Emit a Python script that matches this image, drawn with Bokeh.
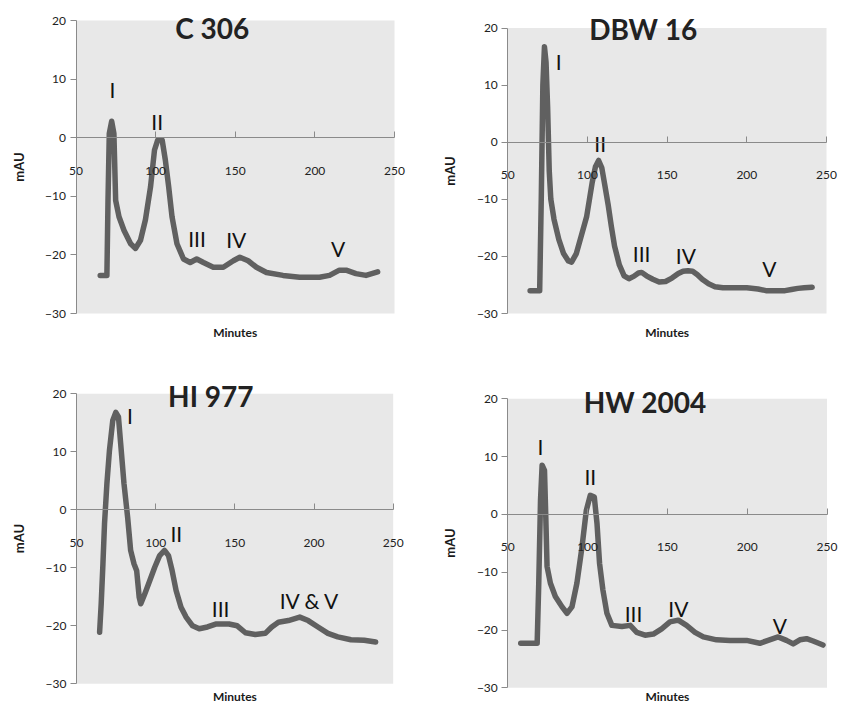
import math
from bokeh.plotting import figure
from bokeh.layouts import row, column
from bokeh.models import Range1d, FixedTicker, LinearAxis, Label, ColumnDataSource
from bokeh.core.properties import value
from bokeh.embed import file_html
from bokeh.resources import INLINE

FONT = "Lato"

x_ticks = [50, 100, 150, 200, 250]
y_ticks = [-30, -20, -10, 0, 10, 20]

# ---- C 306 ----
c306_x = [65.2, 69.4, 70.1, 70.9, 72.4, 73.8, 74.9, 77.0, 80.1, 84.3, 87.4, 90.5, 93.6, 96.8,
          99.3, 101.3, 104.1, 106.1, 108.2, 110.3, 113.4, 117.5, 121.7, 125.8, 130.0, 136.2,
          142.5, 148.8, 152.9, 158.1, 163.3, 169.6, 180.0, 190.4, 202.9, 209.2, 215.4, 219.6,
          225.8, 232.1, 239.4]
c306_y = [-23.5, -23.5, -10.7, 0.7, 2.8, 0.7, -10.7, -13.5, -15.8, -18.1, -18.9, -17.5, -14.0, -8.4,
          -2.1, -0.4, -0.4, -3.8, -8.4, -13.5, -18.1, -20.7, -21.3, -20.7, -21.3, -22.1,
          -22.1, -21.0, -20.4, -21.0, -22.1, -23.0, -23.5, -23.8, -23.8, -23.5, -22.6, -22.6,
          -23.2, -23.5, -22.9]
c306_lab = ["I", "II", "III", "IV", "V"]
c306_lab_x = [72.9, 101.0, 126.0, 150.6, 214.6]
c306_lab_y = [8.2, 2.8, -17.2, -17.4, -18.9]

# ---- DBW 16 ----
dbw16_x = [64, 70, 71, 72, 73, 74, 75, 76, 77, 79, 82, 85, 88, 90, 93, 96, 99.5, 103, 105, 107,
           109, 111, 113, 115, 117, 120, 123, 126, 129, 132, 134, 137, 141, 145, 149, 153, 157,
           160, 163, 166, 169, 172, 176, 180, 185, 190, 200, 207, 212, 218, 224, 228, 232, 236, 241]
dbw16_y = [-26, -26, -10, 10, 16.7, 14, 6, -5, -10, -13.5, -17, -19.5, -20.8, -21, -19.5, -16.5,
           -13, -7, -4.3, -3.2, -4.5, -7.7, -11, -14.8, -18.2, -21.5, -23.4, -23.9, -23.5, -22.9,
           -22.8, -23.4, -24, -24.5, -24.4, -23.8, -23, -22.6, -22.5, -22.6, -23.2, -24, -24.8,
           -25.3, -25.5, -25.5, -25.5, -25.7, -26, -26, -26, -25.8, -25.6, -25.5, -25.4]
dbw16_lab = ["I", "II", "III", "IV", "V"]
dbw16_lab_x = [81.9, 108.0, 134.0, 161.7, 214.2]
dbw16_lab_y = [14.1, -0.2, -19.5, -19.8, -22.2]

# ---- HI 977 ----
hi977_x = [64.6, 65.6, 66.7, 67.7, 69.2, 70.8, 72.9, 74.8, 76.5, 77.9, 80.0, 82.3, 84.2, 86.3, 88.0,
           89.6, 90.6, 93.1, 96.3, 99.4, 102.5, 105.6, 108.1, 110.4, 112.9, 116.0, 119.2, 123.3,
           127.5, 132.7, 137.9, 146.3, 151.5, 156.7, 162.9, 169.2, 173.3, 177.5, 183.8, 191.0,
           196.3, 202.5, 208.8, 215.0, 223.3, 231.7, 238.9]
hi977_y = [-21.1, -16.2, -9.3, -2.4, 4.5, 10.2, 15.4, 16.8, 16.0, 11.4, 4.5, -1.3, -7.0, -9.3, -10.5,
           -15.1, -16.2, -14.5, -12.2, -9.9, -7.9, -7.0, -7.9, -10.5, -13.9, -16.8, -18.5, -20.0,
           -20.5, -20.2, -19.7, -19.7, -20.0, -21.2, -21.5, -21.3, -20.2, -19.4, -19.1, -18.5,
           -19.1, -20.2, -21.3, -21.9, -22.4, -22.5, -22.8]
hi977_lab = ["I", "II", "III", "IV & V"]
hi977_lab_x = [83.75, 113.0, 141.0, 197.3]
hi977_lab_y = [16.3, -4.0, -17.1, -15.6]

# ---- HW 2004 ----
hw2004_x = [58.1, 68.4, 69.4, 70.5, 71.5, 73.0, 73.8, 74.6, 76.7, 79.8, 84.0, 87.1, 90.2, 93.3, 96.5,
            99.2, 101.7, 104.2, 105.9, 107.5, 109.6, 112.1, 115.2, 121.5, 126.7, 130.8, 136.0,
            141.2, 146.4, 151.6, 156.8, 162.0, 167.3, 172.5, 180.8, 189.2, 199.6, 207.9, 213.1,
            219.4, 224.6, 228.8, 233.0, 237.2, 241.3, 247.5]
hw2004_y = [-22.3, -22.3, -11.9, 2.5, 8.5, 7.6, -0.4, -9.0, -11.9, -14.2, -16.0, -17.1, -16.0, -11.9,
            -5.6, 0.7, 3.3, 3.0, -1.6, -8.5, -13.1, -17.1, -19.2, -19.4, -19.2, -20.4, -20.9,
            -20.7, -19.8, -18.6, -18.3, -19.2, -20.4, -21.2, -21.7, -21.8, -21.8, -22.3, -21.8,
            -21.2, -21.8, -22.4, -21.7, -21.5, -21.9, -22.6]
hw2004_lab = ["I", "II", "III", "IV", "V"]
hw2004_lab_x = [70.4, 101.7, 128.8, 156.9, 220.4]
hw2004_lab_y = [11.7, 6.5, -17.1, -16.3, -19.3]

AX_COL = "#8a8a8a"
TICK_TXT = "#222222"


def make_panel(name, xs, ys, labs, lab_x, lab_y, title_x, title_y, w, h, geo, minutes_off):
    # geo: pixel positions inside the figure of x=50, x=250, y=20, y=-30
    px0, px1, py_top, py_bot = geo
    xmin, xmax = x_ticks[0], x_ticks[-1]
    ymin, ymax = y_ticks[0], y_ticks[-1]
    sx = (xmax - xmin) / (px1 - px0)
    sy = (ymax - ymin) / (py_bot - py_top)
    xr = Range1d(xmin - px0 * sx, xmax + (w - px1) * sx)
    yr = Range1d(ymin - (h - py_bot) * sy, ymax + py_top * sy)

    p = figure(width=w, height=h, x_range=xr, y_range=yr,
               output_backend="svg", toolbar_location=None,
               min_border=0)
    p.background_fill_color = "white"
    p.border_fill_color = "white"
    p.outline_line_color = None
    p.grid.visible = False

    # grey plot area
    p.quad(left=[xmin], right=[xmax], bottom=[ymin], top=[ymax],
           fill_color="#e8e8e8", line_color=None)

    # x axis crossing at y = 0
    xa = p.xaxis[0]
    xa.fixed_location = 0
    xa.bounds = (xmin, xmax)
    xa.ticker = FixedTicker(ticks=x_ticks)
    xa.axis_line_color = AX_COL
    xa.major_tick_line_color = AX_COL
    xa.major_tick_in = 6
    xa.major_tick_out = 0
    xa.minor_tick_line_color = None
    xa.major_label_standoff = 29
    xa.major_label_text_font = FONT
    xa.major_label_text_font_size = "12px"
    xa.major_label_text_color = TICK_TXT

    ya = p.yaxis[0]
    ya.fixed_location = xmin
    ya.bounds = (ymin, ymax)
    ya.ticker = FixedTicker(ticks=y_ticks)
    ya.axis_line_color = AX_COL
    ya.major_tick_line_color = AX_COL
    ya.major_tick_in = 0
    ya.major_tick_out = 6
    ya.minor_tick_line_color = None
    ya.major_label_standoff = 4
    ya.major_label_text_font = FONT
    ya.major_label_text_font_size = "12px"
    ya.major_label_text_color = TICK_TXT
    ya.axis_label = "mAU"
    ya.axis_label_text_font = FONT
    ya.axis_label_text_font_size = "13px"
    ya.axis_label_text_font_style = "bold"
    ya.axis_label_text_color = "#1a1a1a"
    ya.axis_label_standoff = 16

    p.add_layout(Label(x=(xmin + xmax) / 2, y=ymin, y_offset=minutes_off, text="Minutes",
                       text_font=FONT, text_font_size="12px", text_font_style="bold",
                       text_align="center", text_baseline="middle", text_color="#1a1a1a"))

    p.line(xs, ys, line_color="#606060", line_width=5.5, line_join="round", line_cap="round")

    src = ColumnDataSource(dict(x=lab_x, y=lab_y, t=labs))
    p.text(x="x", y="y", text="t", source=src, text_font=value(FONT), text_font_size="21px",
           text_align="center", text_baseline="middle", text_color="#111111")

    p.add_layout(Label(x=title_x, y=title_y, text=name, text_font=FONT, text_font_size="28px",
                       text_font_style="bold", text_align="center", text_baseline="middle",
                       text_color="#222222"))
    return p


# page has no margin: top row y 0..346, bottom row 346..707; left col 0..439, right col 439..853
p1 = make_panel("C 306", c306_x, c306_y, c306_lab, c306_lab_x, c306_lab_y, 135.6, 18.8,
                439, 346, (75.5, 394, 20, 313), -19)
p2 = make_panel("DBW 16", dbw16_x, dbw16_y, dbw16_lab, dbw16_lab_x, dbw16_lab_y, 135.0, 19.9,
                414, 346, (507.3 - 439, 826 - 439, 27.5, 313), -19)
p3 = make_panel("HI 977", hi977_x, hi977_y, hi977_lab, hi977_lab_x, hi977_lab_y, 134.8, 19.7,
                439, 361, (76, 392.7, 393.3 - 346, 683.3 - 346), -13)
p4 = make_panel("HW 2004", hw2004_x, hw2004_y, hw2004_lab, hw2004_lab_x, hw2004_lab_y, 136.0, 19.5,
                414, 361, (507.3 - 439, 826.5 - 439, 398.3 - 346, 687.3 - 346), -9)

layout = column(row(p1, p2), row(p3, p4))
open("out.html", "w").write(file_html(layout, INLINE))
